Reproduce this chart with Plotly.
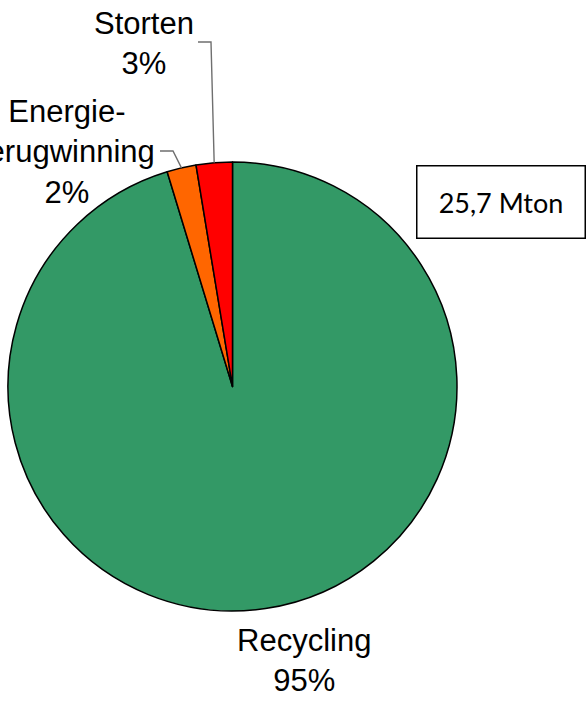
import math
import plotly.graph_objects as go

# ---- data ----
categories = ["Recycling", "Energie-<br>terugwinning", "Storten"]
shares = [95.3, 2.1, 2.6]          # percent of total
colors = ["#339966", "#FF6600", "#FF0000"]
total_label = "25,7 Mton"

W, H = 586, 705
CX, CY, R = 232.5, 386.5, 224.5


def px(x):
    return x / W


def py(y):
    return 1 - y / H


fig = go.Figure(go.Pie(
    labels=categories,
    values=shares,
    sort=False,
    direction="clockwise",
    rotation=0,
    textinfo="none",
    hoverinfo="label+percent",
    marker=dict(colors=colors, line=dict(color="black", width=1.5)),
    domain=dict(x=[px(CX - R), px(CX + R)], y=[py(CY + R), py(CY - R)]),
    showlegend=False,
))

# mid-angles of slices (clockwise from 12 o'clock), computed from data
tot = sum(shares)
mids = []
acc = 0
for v in shares:
    mids.append((acc + v / 2) / tot * 360)
    acc += v


def edge(angle_deg):
    a = math.radians(angle_deg)
    return CX + R * math.sin(a), CY - R * math.cos(a)


pcts = [f"{round(v / tot * 100)}%" for v in shares]

font = dict(family="Liberation Sans, Arial, sans-serif", size=31, color="black")
label_pos = {0: (303.5, 660), 1: (67, 152), 2: (143.5, 44)}
annotations = []
for i, cat in enumerate(categories):
    x, y = label_pos[i]
    annotations.append(dict(
        x=px(x), y=py(y), xref="paper", yref="paper",
        text=f"{cat}<br>{pcts[i]}", showarrow=False,
        xanchor="center", yanchor="middle", align="center", font=font,
    ))

annotations.append(dict(
    x=px(501), y=py(202), xref="paper", yref="paper",
    text=total_label, showarrow=False, xanchor="center", yanchor="middle",
    font=dict(family="Lato, Carlito, Calibri, sans-serif", size=27, color="black"),
    bordercolor="black", borderwidth=1.5, width=165, height=69, bgcolor="white",
))

line_style = dict(color="#6f6f6f", width=1.4)
sx, sy = edge(mids[2])
ex, ey = edge(mids[1])
shapes = [
    dict(type="path", xref="paper", yref="paper",
         path=f"M {px(198)} {py(42)} L {px(211)} {py(42)} L {px(sx)} {py(sy)}",
         line=line_style),
    dict(type="path", xref="paper", yref="paper",
         path=f"M {px(160)} {py(151)} L {px(173)} {py(151)} L {px(ex)} {py(ey)}",
         line=line_style),
]

fig.update_layout(
    width=W, height=H,
    margin=dict(l=0, r=0, t=0, b=0),
    paper_bgcolor="white", plot_bgcolor="white",
    annotations=annotations, shapes=shapes,
)

fig.write_html(
    "out.html",
    config={"displayModeBar": False},
    post_script="document.body.style.margin='0';document.body.style.overflow='hidden';",
)
